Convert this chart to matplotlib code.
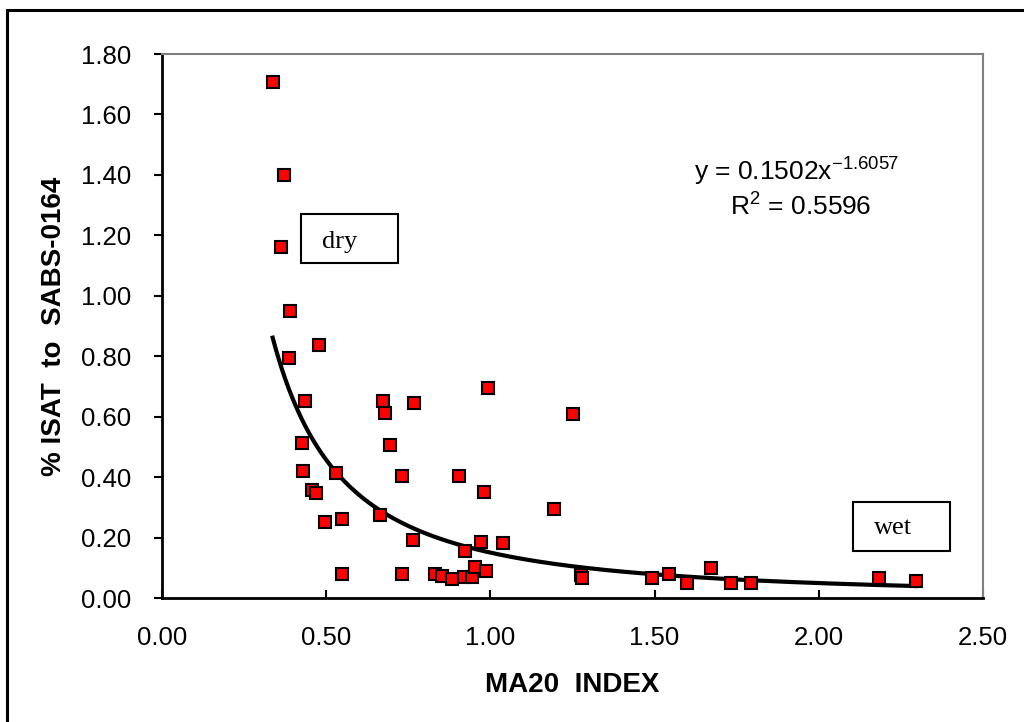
import numpy as np
import matplotlib
matplotlib.use("Agg")
import matplotlib.pyplot as plt
from matplotlib.patches import Rectangle

# MA20 index vs % ISAT
ma20 = [0.337, 0.370, 0.363, 0.390, 0.387, 0.477, 0.436, 0.673, 0.680, 0.766,
        0.992, 1.252, 0.426, 0.695, 0.429, 0.530, 0.732, 0.903, 0.980, 0.456,
        0.469, 1.193, 0.497, 0.548, 0.665, 0.763, 0.971, 1.038, 0.922, 0.548,
        0.730, 0.830, 0.853, 0.883, 0.919, 0.943, 0.954, 0.988, 1.276, 1.280,
        1.493, 1.544, 1.600, 1.671, 1.732, 1.793, 2.182, 2.296]
isat = [1.708, 1.398, 1.163, 0.951, 0.795, 0.836, 0.651, 0.653, 0.613, 0.645,
        0.695, 0.608, 0.513, 0.507, 0.419, 0.414, 0.403, 0.403, 0.351, 0.359,
        0.348, 0.296, 0.251, 0.263, 0.273, 0.191, 0.186, 0.181, 0.156, 0.078,
        0.080, 0.080, 0.074, 0.063, 0.070, 0.070, 0.103, 0.089, 0.077, 0.066,
        0.067, 0.078, 0.050, 0.100, 0.050, 0.050, 0.067, 0.056]

# power trendline coefficients from the chart
coef_a = 0.1502
coef_b = -1.6057
r2 = 0.5596

plt.rcParams['font.family'] = ['Liberation Sans', 'DejaVu Sans']
plt.rcParams['mathtext.fontset'] = 'custom'
plt.rcParams['mathtext.rm'] = 'Liberation Sans'

fig = plt.figure(figsize=(10.24, 7.22), dpi=100)
ax = fig.add_axes([162/1024, 1 - 598/722, (983 - 162)/1024, (598 - 54)/722])

# outer frame (only top/left visible in the reference)
fig.patches.append(Rectangle((7/1024, -0.1), 1.2, 1 - 10/722 + 0.1,
                             transform=fig.transFigure, fill=False,
                             edgecolor='black', linewidth=2.2))

xs = np.linspace(min(ma20), max(ma20), 200)
ax.plot(xs, coef_a * xs ** coef_b, color='black', linewidth=3, zorder=2)
ax.plot(ma20, isat, linestyle='none', marker='s', markersize=8.5,
        markerfacecolor='#ff0000', markeredgecolor='black',
        markeredgewidth=1.5, zorder=3)

ax.set_xlim(0, 2.5)
ax.set_ylim(0, 1.8)
ax.set_xticks(np.arange(0, 2.51, 0.5))
ax.set_yticks(np.arange(0, 1.81, 0.2))
ax.xaxis.set_major_formatter(matplotlib.ticker.FormatStrFormatter('%.2f'))
ax.yaxis.set_major_formatter(matplotlib.ticker.FormatStrFormatter('%.2f'))
ax.tick_params(axis='x', direction='in', length=6, width=1.5, labelsize=18.5, pad=20)
ax.tick_params(axis='y', direction='out', length=6, width=1.5, labelsize=18.5, pad=16)

for s in ['left', 'bottom']:
    ax.spines[s].set_linewidth(2)
    ax.spines[s].set_color('black')
for s in ['top', 'right']:
    ax.spines[s].set_linewidth(1.5)
    ax.spines[s].set_color('#808080')

ax.set_xlabel('MA20  INDEX', fontsize=20, fontweight='bold')
ax.set_ylabel('% ISAT  to  SABS-0164', fontsize=20, fontweight='bold')
ax.xaxis.set_label_coords(0.5, (598 - 672) / 544)
ax.yaxis.set_label_coords((67 - 162) / 821, 0.5)

# trendline equation
ax.text(0.773, 0.786, r'y = 0.1502x$^{\mathregular{-1.6057}}$', transform=ax.transAxes,
        fontsize=19, ha='center', va='center')
ax.text(0.778, 0.722, r'R$^{\mathregular{2}}$ = 0.5596', transform=ax.transAxes,
        fontsize=19, ha='center', va='center')

# dry / wet boxes
def px_box(x0, y0, x1, y1):
    bx = (x0 - 162) / (983 - 162)
    by = (598 - y1) / (598 - 54)
    w = (x1 - x0) / (983 - 162)
    h = (y1 - y0) / (598 - 54)
    return bx, by, w, h

for (x0, y0, x1, y1), label, tx, ty in [((301, 214, 398, 263), 'dry', 340, 242),
                                        ((853, 502, 950, 551), 'wet', 893, 528)]:
    bx, by, w, h = px_box(x0, y0, x1, y1)
    ax.add_patch(Rectangle((bx, by), w, h, transform=ax.transAxes, fill=True,
                           facecolor='white', edgecolor='black', linewidth=1.5,
                           zorder=4))
    ax.text((tx - 162) / (983 - 162), (598 - ty) / (598 - 54), label,
            transform=ax.transAxes, fontsize=19, family='Liberation Serif',
            ha='center', va='center', zorder=5)

fig.savefig('out.png', dpi=100)
